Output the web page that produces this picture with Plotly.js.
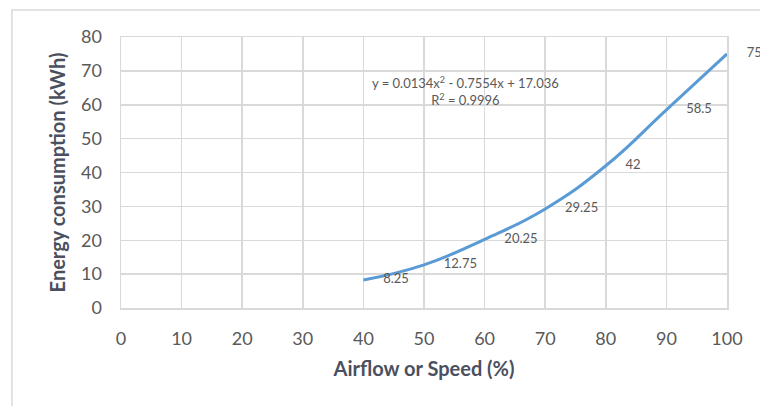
<!DOCTYPE html>
<html>
<head>
<meta charset="utf-8">
<script src="https://cdn.plot.ly/plotly-3.0.1.min.js"></script>
<style>
html,body{margin:0;padding:0;background:#fff;}
#chart{width:760px;height:406px;}
</style>
</head>
<body>
<div id="chart"></div>
<script>
var airflow = [40, 50, 60, 70, 80, 90, 100];
var energy = [8.25, 12.75, 20.25, 29.25, 42, 58.5, 75];
var energyLabels = ['8.25', '12.75', '20.25', '29.25', '42', '58.5', '75'];
var xTicks = [0, 10, 20, 30, 40, 50, 60, 70, 80, 90, 100];
var yTicks = [0, 10, 20, 30, 40, 50, 60, 70, 80];
var equationText = 'y = 0.0134x<sup>2</sup> - 0.7554x + 17.036<br>R<sup>2</sup> = 0.9996';

var FONT = 'Lato, "Open Sans", sans-serif';
var GREY = '#595959';
var GRID = '#D9D9D9';

var trace = {
  x: airflow,
  y: energy,
  text: energyLabels,
  mode: 'lines+markers+text',
  type: 'scatter',
  line: {color: '#5B9BD5', width: 3, shape: 'spline', smoothing: 1.3},
  marker: {size: 30, color: 'rgba(0,0,0,0)'},
  textposition: 'middle right',
  textfont: {family: FONT, size: 13, color: GREY},
  hoverinfo: 'x+y',
  cliponaxis: false
};

var layout = {
  width: 760,
  height: 406,
  margin: {l: 121, r: 33, t: 37, b: 98},
  paper_bgcolor: '#ffffff',
  plot_bgcolor: '#ffffff',
  showlegend: false,
  font: {family: FONT, color: GREY},
  xaxis: {
    range: [0, 100],
    tickvals: xTicks,
    ticktext: xTicks.map(String),
    showgrid: true,
    gridcolor: GRID,
    gridwidth: 1.5,
    zeroline: false,
    showline: true,
    mirror: true,
    linecolor: GRID,
    linewidth: 1.5,
    ticks: 'outside',
    ticklen: 14,
    tickcolor: 'rgba(0,0,0,0)',
    tickfont: {family: FONT, size: 18, color: GREY},
    title: {text: 'Airflow or Speed (%)', font: {family: FONT, size: 20, color: '#4A5060', weight: 'bold'}, standoff: 14}
  },
  yaxis: {
    range: [0, 80],
    tickvals: yTicks,
    ticktext: yTicks.map(String),
    showgrid: true,
    gridcolor: GRID,
    gridwidth: 1.5,
    zeroline: false,
    showline: true,
    mirror: true,
    linecolor: GRID,
    linewidth: 1.5,
    ticks: 'outside',
    ticklen: 14,
    tickcolor: 'rgba(0,0,0,0)',
    tickfont: {family: FONT, size: 18, color: GREY},
    title: {text: 'Energy consumption (kWh)', font: {family: FONT, size: 20, color: '#4A5060', weight: 'bold'}, standoff: 10}
  },
  annotations: [{
    x: 56.8, y: 64.2, xref: 'x', yref: 'y',
    text: equationText,
    showarrow: false,
    align: 'center',
    font: {family: FONT, size: 13, color: GREY}
  }],
  shapes: [{
    type: 'rect', xref: 'paper', yref: 'paper',
    x0: -0.18, x1: 1.07, y0: -0.38, y1: 1.0996,
    line: {color: GRID, width: 1.5},
    fillcolor: 'rgba(0,0,0,0)',
    layer: 'below'
  }]
};

Plotly.newPlot('chart', [trace], layout, {displayModeBar: false, staticPlot: true});
</script>
</body>
</html>
